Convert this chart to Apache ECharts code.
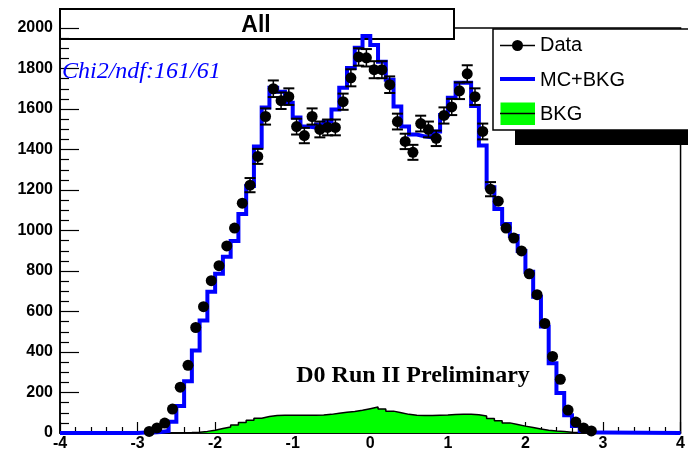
<!DOCTYPE html>
<html>
<head>
<meta charset="utf-8">
<script src="https://cdn.jsdelivr.net/npm/echarts@6/dist/echarts.min.js"></script>
<style>
  html, body { margin: 0; padding: 0; background: #ffffff; }
  #chart { width: 688px; height: 452px; }
</style>
</head>
<body>
<div id="chart"></div>
<script>
// Bin centres (bin width 0.1) of the histograms
const binCenters = [
  -2.95, -2.85, -2.75, -2.65, -2.55, -2.45, -2.35, -2.25, -2.15, -2.05,
  -1.95, -1.85, -1.75, -1.65, -1.55, -1.45, -1.35, -1.25, -1.15, -1.05,
  -0.95, -0.85, -0.75, -0.65, -0.55, -0.45, -0.35, -0.25, -0.15, -0.05,
   0.05,  0.15,  0.25,  0.35,  0.45,  0.55,  0.65,  0.75,  0.85,  0.95,
   1.05,  1.15,  1.25,  1.35,  1.45,  1.55,  1.65,  1.75,  1.85,  1.95,
   2.05,  2.15,  2.25,  2.35,  2.45,  2.55,  2.65,  2.75,  2.85,  2.95
];

// Measured events per bin
const dataCounts = [
  null,    8,   25,   49,  118,  226,  334,  521,  624,  752,
   826,  924, 1012, 1135, 1224, 1366, 1563, 1700, 1641, 1661,
  1513, 1469, 1563, 1499, 1509, 1509, 1636, 1754, 1857, 1853,
  1794, 1794, 1720, 1538, 1440, 1386, 1528, 1499, 1455, 1568,
  1610, 1690, 1774, 1661, 1489, 1204, 1145, 1012,  963,  899,
   786,  683,  541,  378,  265,  113,   54,   25,   10, null
];

// Statistical uncertainty of each measured bin
const dataErrors = [
  null,  3,  5,  7, 11, 15, 18, 23, 25, 27,
    29, 30, 32, 34, 35, 37, 40, 41, 41, 41,
    39, 38, 40, 39, 39, 39, 40, 42, 43, 43,
    42, 42, 41, 39, 38, 37, 39, 39, 38, 40,
    40, 41, 42, 41, 39, 35, 34, 32, 31, 30,
    28, 26, 23, 19, 16, 11,  7,  5,  3, null
];

// Simulation plus background
const mcPlusBkg = [
     2,    3,    5,   10,   55,  133,  256,  408,  555,  698,
   786,  870,  948, 1081, 1220, 1415, 1607, 1705, 1685, 1631,
  1558, 1514, 1509, 1523, 1538, 1597, 1705, 1803, 1902, 1960,
  1916, 1833, 1744, 1612, 1514, 1474, 1465, 1460, 1489, 1570,
  1656, 1730, 1730, 1615, 1420, 1214, 1106, 1032,  973,  899,
   796,  673,  526,  344,  197,   88,   34,   10,    3,    2
];

// Background only
const bkg = [
    0,   0,   0,   0,   0,   1,   2,   4,   8,  14,
   22,  30,  40,  52,  63,  73,  81,  86,  88,  88,
   88,  88,  88,  89,  92,  97, 102, 106, 112, 120,
  128, 118, 108, 100,  92,  88,  87,  87,  88,  89,
   91,  93,  92,  90,  84,  72,  60,  50,  42,  34,
   27,  20,  14,  10,   7,   4,   2,   1,   0,   0
];

const xRange = [-4, 4];
const yRange = [0, 2000];

const SANS = "'Liberation Sans', Arial, Helvetica, sans-serif";
const SERIF = "'Liberation Serif', 'Times New Roman', serif";
const MARKER = 11;

// Turn per-bin contents into a stepped outline spanning the whole axis
function stepOutline(values) {
  const half = (binCenters[1] - binCenters[0]) / 2;
  const pts = [[xRange[0], 0], [binCenters[0] - half, 0]];
  values.forEach((v, i) => {
    pts.push([binCenters[i] - half, v]);
    pts.push([binCenters[i] + half, v]);
  });
  pts.push([binCenters[binCenters.length - 1] + half, 0]);
  pts.push([xRange[1], 0]);
  return pts;
}

const points = [];
binCenters.forEach((c, i) => {
  if (dataCounts[i] != null) points.push([c, dataCounts[i], dataErrors[i]]);
});

const chart = echarts.init(document.getElementById('chart'), null, { renderer: 'canvas' });

chart.setOption({
  animation: false,
  backgroundColor: '#ffffff',
  grid: {
    left: 60, right: 3, top: 28, bottom: 17,
    show: true, borderColor: '#000', borderWidth: 1.5, backgroundColor: 'transparent'
  },
  xAxis: {
    type: 'value', min: xRange[0], max: xRange[1], interval: 1,
    axisLine: { show: true, onZero: false, lineStyle: { color: '#000', width: 1.5 } },
    axisTick: { show: true, inside: true, length: 11, lineStyle: { color: '#000', width: 1.2 } },
    minorTick: { show: true, splitNumber: 5, length: 6, lineStyle: { color: '#000', width: 1.2 } },
    splitLine: { show: false },
    axisLabel: {
      color: '#000', fontFamily: SANS, fontWeight: 'bold', fontSize: 16, margin: 3,
      showMinLabel: true, showMaxLabel: true,
      formatter: v => String(v)
    }
  },
  yAxis: {
    type: 'value', min: yRange[0], max: yRange[1], interval: 200,
    axisLine: { show: true, onZero: false, lineStyle: { color: '#000', width: 1.5 } },
    axisTick: { show: true, inside: true, length: 19, lineStyle: { color: '#000', width: 1.2 } },
    minorTick: { show: true, splitNumber: 4, length: 9, lineStyle: { color: '#000', width: 1.2 } },
    splitLine: { show: false },
    axisLabel: {
      color: '#000', fontFamily: SANS, fontWeight: 'bold', fontSize: 16, margin: 7,
      showMinLabel: true, showMaxLabel: true,
      formatter: v => String(v)
    }
  },
  series: [
    {
      name: 'BKG', type: 'line', data: stepOutline(bkg),
      showSymbol: false, symbol: 'none', z: 2,
      lineStyle: { color: '#000', width: 1.5 },
      areaStyle: { color: '#00ff00', opacity: 1 }
    },
    {
      name: 'MC+BKG', type: 'line', data: stepOutline(mcPlusBkg),
      showSymbol: false, symbol: 'none', z: 3,
      lineStyle: { color: '#0000ff', width: 4, join: 'miter' }
    },
    {
      name: 'Data errors', type: 'custom', z: 4,
      encode: { x: 0, y: 1 },
      data: points,
      renderItem: function (params, api) {
        const x = api.value(0), y = api.value(1), e = api.value(2);
        const top = api.coord([x, y + e]);
        const bot = api.coord([x, y - e]);
        const mid = api.coord([x, y]);
        // bars that stay inside the marker are not drawn
        if (mid[1] - top[1] < MARKER / 2 + 1.5) return null;
        const hw = 5.5;
        const st = { stroke: '#000', lineWidth: 2 };
        return {
          type: 'group',
          children: [
            { type: 'line', shape: { x1: top[0], y1: top[1], x2: bot[0], y2: bot[1] }, style: { stroke: '#000', lineWidth: 1.5 } },
            { type: 'line', shape: { x1: top[0] - hw, y1: top[1], x2: top[0] + hw, y2: top[1] }, style: st },
            { type: 'line', shape: { x1: bot[0] - hw, y1: bot[1], x2: bot[0] + hw, y2: bot[1] }, style: st }
          ]
        };
      }
    },
    {
      name: 'Data', type: 'scatter', z: 5,
      data: points.map(p => [p[0], p[1]]),
      symbol: 'circle', symbolSize: MARKER,
      itemStyle: { color: '#000', opacity: 1 }
    }
  ],
  graphic: [
    // title box
    {
      type: 'group', z: 100,
      children: [
        { type: 'rect', shape: { x: 60, y: 9, width: 394, height: 30 },
          style: { fill: '#fff', stroke: '#000', lineWidth: 2 } },
        { type: 'text', x: 256, y: 26,
          style: { text: 'All', font: "bold 23px " + SANS, fill: '#000', align: 'center', verticalAlign: 'middle' } }
      ]
    },
    // fit quality
    { type: 'text', z: 90, x: 62, y: 72,
      style: { text: 'Chi2/ndf:161/61', font: "italic 24px " + SERIF, fill: '#0000ff', align: 'left', verticalAlign: 'middle' } },
    // experiment label
    { type: 'text', z: 90, x: 413, y: 376,
      style: { text: 'D0 Run II Preliminary', font: "bold 24px " + SERIF, fill: '#000', align: 'center', verticalAlign: 'middle' } },
    // legend
    {
      type: 'group', z: 100,
      children: [
        { type: 'rect', shape: { x: 515, y: 130, width: 200, height: 15 }, style: { fill: '#000' } },
        { type: 'rect', shape: { x: 493, y: 29, width: 220, height: 101 },
          style: { fill: '#fff', stroke: '#000', lineWidth: 1.5 } },
        { type: 'line', shape: { x1: 500, y1: 45.5, x2: 535, y2: 45.5 }, style: { stroke: '#000', lineWidth: 1.5 } },
        { type: 'circle', shape: { cx: 517.5, cy: 45.5, r: 5.5 }, style: { fill: '#000' } },
        { type: 'text', x: 540, y: 45,
          style: { text: 'Data', font: "20px " + SANS, fill: '#000', verticalAlign: 'middle' } },
        { type: 'line', shape: { x1: 500, y1: 79, x2: 535, y2: 79 }, style: { stroke: '#0000ff', lineWidth: 4 } },
        { type: 'text', x: 540, y: 80,
          style: { text: 'MC+BKG', font: "20px " + SANS, fill: '#000', verticalAlign: 'middle' } },
        { type: 'rect', shape: { x: 500.5, y: 102.5, width: 34.5, height: 22.5 }, style: { fill: '#00ff00' } },
        { type: 'line', shape: { x1: 500, y1: 113.5, x2: 535, y2: 113.5 }, style: { stroke: '#000', lineWidth: 1.5 } },
        { type: 'text', x: 540, y: 114,
          style: { text: 'BKG', font: "20px " + SANS, fill: '#000', verticalAlign: 'middle' } }
      ]
    }
  ]
});
</script>
</body>
</html>
